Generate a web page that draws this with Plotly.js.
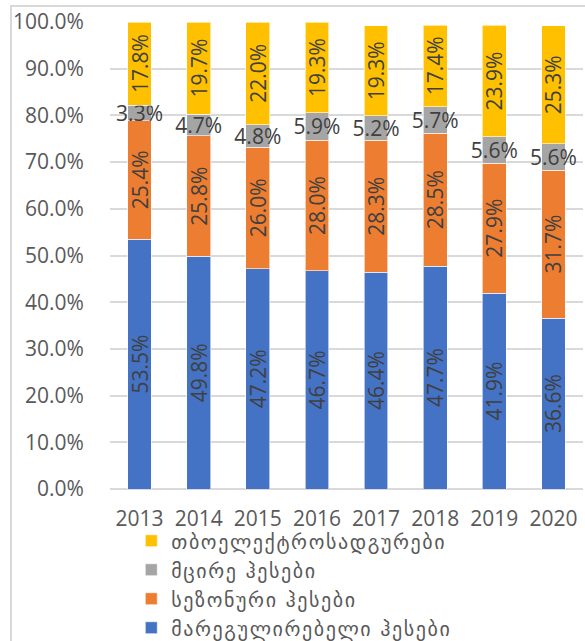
<!DOCTYPE html>
<html>
<head>
<meta charset="utf-8">
<script src="https://cdn.plot.ly/plotly-3.0.1.min.js"></script>
<style>
  html, body { margin: 0; padding: 0; background: #fff; }
  #frame {
    position: absolute; left: 10px; top: 5px; width: 600px; height: 660px;
    border-top: 2px solid #d9d9d9; border-left: 2px solid #d9d9d9;
  }
  #chart { position: absolute; left: 0; top: 0; width: 585px; height: 641px; }
  .legendtext { letter-spacing: 1.6px; }
</style>
</head>
<body>
<div id="frame"></div>
<div id="chart"></div>
<script>
// years on the x axis
const years = ["2013", "2014", "2015", "2016", "2017", "2018", "2019", "2020"];

// share of generation, percent
const regulating = [53.5, 49.8, 47.2, 46.7, 46.4, 47.7, 41.9, 36.6];
const seasonal   = [25.4, 25.8, 26.0, 28.0, 28.3, 28.5, 27.9, 31.7];
const small      = [3.3, 4.7, 4.8, 5.9, 5.2, 5.7, 5.6, 5.6];
const thermal    = [17.8, 19.7, 22.0, 19.3, 19.3, 17.4, 23.9, 25.3];

const names = ["მარეგულირებელი ჰესები", "სეზონური ჰესები", "მცირე ჰესები", "თბოელექტროსადგურები"];
const colors = ["#4472C4", "#ED7D31", "#A5A5A5", "#FFC000"];

const labelFont = { family: "Open Sans, sans-serif", size: 21, color: "#404040" };

function barTrace(vals, i, angle) {
    return {
        type: "bar",
        x: years,
        y: vals,
        name: names[i],
        marker: { color: colors[i], line: { color: "rgba(255,255,255,0.6)", width: 1 } },
        texttemplate: "%{y:.1f}%",
        textposition: "inside",
        insidetextanchor: "middle",
        textangle: angle,
        constraintext: "none",
        insidetextfont: labelFont,
        hoverinfo: "skip"
    };
}

const data = [
    barTrace(regulating, 0, -90),
    barTrace(seasonal, 1, -90),
    barTrace(small, 2, 0),
    barTrace(thermal, 3, -90)
];

const layout = {
    width: 585,
    height: 641,
    barmode: "stack",
    bargap: 0.6,
    paper_bgcolor: "rgba(0,0,0,0)",
    plot_bgcolor: "rgba(0,0,0,0)",
    margin: { l: 110, r: 2, t: 22, b: 152, autoexpand: false },
    font: { family: "Open Sans, sans-serif", color: "#595959" },
    xaxis: {
        type: "category",
        tickfont: { family: "Open Sans, sans-serif", size: 21, color: "#595959" },
        showline: false,
        showgrid: false,
        ticks: "outside",
        ticklen: 11,
        tickcolor: "rgba(0,0,0,0)"
    },
    yaxis: {
        range: [0, 100],
        dtick: 10,
        tickformat: ".1f",
        ticksuffix: "%",
        tickfont: { family: "Open Sans, sans-serif", size: 21, color: "#595959" },
        gridcolor: "#d9d9d9",
        gridwidth: 2,
        zeroline: true,
        zerolinecolor: "#d9d9d9",
        zerolinewidth: 2,
        ticks: "outside",
        ticklen: 21,
        tickcolor: "rgba(0,0,0,0)"
    },
    showlegend: true,
    legend: {
        orientation: "v",
        traceorder: "reversed",
        x: 0.045,
        xanchor: "left",
        y: -0.069,
        yanchor: "top",
        tracegroupgap: 0,
        itemwidth: 30,
        font: { family: "DejaVu Sans, sans-serif", size: 20, color: "#595959" }
    }
};

Plotly.newPlot("chart", data, layout, { displayModeBar: false, staticPlot: true });
</script>
</body>
</html>
